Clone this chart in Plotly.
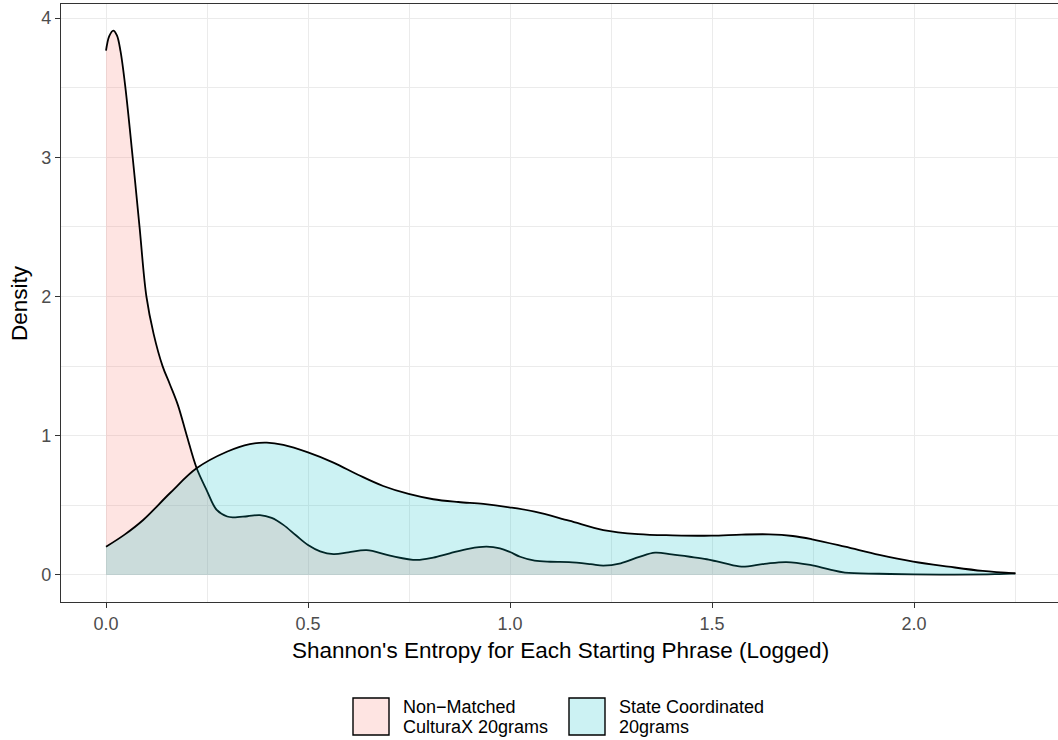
import plotly.graph_objects as go

# ---- data ----
nonmatched_x = [0.000, 0.008, 0.018, 0.027, 0.036, 0.048, 0.066, 0.083, 0.100, 0.118,
                0.140, 0.158, 0.178, 0.200, 0.224, 0.249, 0.274, 0.300, 0.315, 0.350,
                0.381, 0.410, 0.439, 0.470, 0.500, 0.530, 0.563, 0.600, 0.645, 0.703,
                0.769, 0.810, 0.851, 0.900, 0.942, 0.975, 1.000, 1.025, 1.061, 1.100,
                1.146, 1.200, 1.231, 1.274, 1.320, 1.359, 1.400, 1.445, 1.487, 1.530,
                1.573, 1.630, 1.684, 1.743, 1.790, 1.829, 1.914, 2.000, 2.100, 2.200,
                2.251]
nonmatched_y = [3.765, 3.870, 3.910, 3.875, 3.760, 3.500, 3.000, 2.500, 2.000, 1.730,
                1.500, 1.370, 1.220, 1.000, 0.770, 0.610, 0.467, 0.420, 0.414, 0.422,
                0.430, 0.410, 0.360, 0.285, 0.215, 0.170, 0.150, 0.162, 0.178, 0.139,
                0.108, 0.125, 0.156, 0.190, 0.203, 0.191, 0.165, 0.131, 0.103, 0.095,
                0.093, 0.078, 0.067, 0.084, 0.130, 0.160, 0.148, 0.131, 0.113, 0.085,
                0.060, 0.080, 0.093, 0.072, 0.040, 0.017, 0.009, 0.004, 0.003, 0.006,
                0.012]

state_x = [0.000, 0.046, 0.092, 0.158, 0.224, 0.299, 0.356, 0.398, 0.439, 0.500,
           0.563, 0.625, 0.686, 0.749, 0.810, 0.872, 0.934, 0.998, 1.061, 1.146,
           1.231, 1.317, 1.402, 1.498, 1.573, 1.641, 1.700, 1.748, 1.829, 1.914,
           1.998, 2.085, 2.170, 2.251]
state_y = [0.203, 0.290, 0.395, 0.587, 0.766, 0.885, 0.940, 0.950, 0.934, 0.880,
           0.807, 0.718, 0.639, 0.582, 0.544, 0.524, 0.510, 0.486, 0.455, 0.390,
           0.323, 0.294, 0.285, 0.282, 0.290, 0.292, 0.280, 0.256, 0.203, 0.144,
           0.096, 0.060, 0.029, 0.012]

series_labels = [["Non\u2212Matched", "CulturaX 20grams"], ["State Coordinated", "20grams"]]
fill_colors = ["rgba(248,118,109,0.2)", "rgba(0,191,196,0.2)"]

x_ticks = [0.0, 0.5, 1.0, 1.5, 2.0]
x_ticklabels = ["0.0", "0.5", "1.0", "1.5", "2.0"]
y_ticks = [0, 1, 2, 3, 4]
y_ticklabels = ["0", "1", "2", "3", "4"]

FONT = "Liberation Sans, Arial, Helvetica, sans-serif"
W, H = 1058, 740
ML, MT, MR, MB = 61, 4, 0, 138
PW, PH = W - ML - MR, H - MT - MB

def px_to_paper(px, py):
    return (px - ML) / PW, (H - MB - py) / PH

fig = go.Figure()
for xs, ys, col in [(nonmatched_x, nonmatched_y, fill_colors[0]),
                    (state_x, state_y, fill_colors[1])]:
    fig.add_trace(go.Scatter(x=xs, y=ys, mode="lines", fill="tozeroy",
                             fillcolor=col,
                             line=dict(color="black", width=1.8, shape="spline", smoothing=1.0),
                             showlegend=False, hoverinfo="skip"))

fig.update_layout(
    width=W, height=H,
    margin=dict(l=ML, r=MR, t=MT, b=MB, pad=0),
    paper_bgcolor="white", plot_bgcolor="white",
    font=dict(family=FONT, size=18, color="#4D4D4D"),
    showlegend=False,
)
fig.update_xaxes(range=[-0.1114, 2.3564], tickvals=x_ticks, ticktext=x_ticklabels,
                 showgrid=True, gridcolor="#EBEBEB", gridwidth=1.4,
                 minor=dict(tickvals=[0.25, 0.75, 1.25, 1.75, 2.25], showgrid=True,
                            gridcolor="#EBEBEB", gridwidth=0.7, ticks=""),
                 zeroline=False, showline=True, linecolor="#333333", linewidth=1.2, mirror=True,
                 ticks="outside", ticklen=5, tickwidth=1.1, tickcolor="#333333",
                 tickfont=dict(size=18, color="#4D4D4D", family=FONT))
fig.update_yaxes(range=[-0.194, 4.1006], tickvals=y_ticks, ticktext=y_ticklabels,
                 showgrid=True, gridcolor="#EBEBEB", gridwidth=1.4,
                 minor=dict(tickvals=[0.5, 1.5, 2.5, 3.5], showgrid=True,
                            gridcolor="#EBEBEB", gridwidth=0.7, ticks=""),
                 zeroline=False, showline=True, linecolor="#333333", linewidth=1.2, mirror=False,
                 ticks="outside", ticklen=5, tickwidth=1.1, tickcolor="#333333",
                 tickfont=dict(size=18, color="#4D4D4D", family=FONT))

# axis titles
tx = ((282 + 838) / 2 - ML) / PW
_, ty = px_to_paper(0, 650)
fig.add_annotation(text="Shannon's Entropy for Each Starting Phrase (Logged)", x=tx, y=ty,
                   xref="paper", yref="paper", showarrow=False, xanchor="center", yanchor="middle",
                   font=dict(size=22.5, color="black", family=FONT))
dx, dy = px_to_paper(19, 303)
fig.add_annotation(text="Density", x=dx, y=dy, xref="paper", yref="paper", showarrow=False,
                   textangle=-90, xanchor="center", yanchor="middle",
                   font=dict(size=22.5, color="black", family=FONT))

# manual legend
boxes = [(353, 389), (569, 605)]
text_x = [401, 617]
for (bx0, bx1), tx0, lbl, col in zip(boxes, text_x, series_labels, fill_colors):
    x0, y0 = px_to_paper(bx0, 735)
    x1, y1 = px_to_paper(bx1, 698)
    fig.add_shape(type="rect", xref="paper", yref="paper", x0=x0, x1=x1, y0=y0, y1=y1,
                  fillcolor=col, line=dict(color="black", width=1.4))
    for i, line in enumerate(lbl):
        ax, ay = px_to_paper(tx0, 707 + 20 * i)
        fig.add_annotation(text=line, x=ax, y=ay, xref="paper", yref="paper", showarrow=False,
                           xanchor="left", yanchor="middle",
                           font=dict(size=18, color="black", family=FONT))

fig.write_html("out.html")
